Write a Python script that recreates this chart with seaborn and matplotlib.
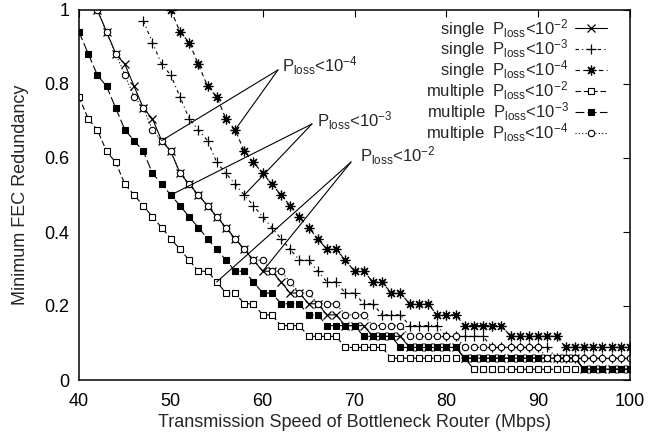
import matplotlib
matplotlib.use("Agg")
import matplotlib.pyplot as plt
import seaborn as sns
import pandas as pd

# ---------------- data ----------------
speed_s2 = list(range(42, 101))
single_e2 = [1.0, 0.941, 0.882, 0.853, 0.794, 0.735, 0.706, 0.647, 0.618, 0.559,
             0.529, 0.5, 0.471, 0.441, 0.412, 0.382, 0.353, 0.324, 0.294, 0.294,
             0.265, 0.235, 0.235, 0.206, 0.206, 0.176, 0.176, 0.147, 0.147, 0.147,
             0.118, 0.118, 0.118, 0.118,
             0.088, 0.088, 0.088, 0.088, 0.088, 0.088,
             0.059, 0.059, 0.059, 0.059, 0.059, 0.059, 0.059, 0.059, 0.059, 0.059,
             0.059, 0.059, 0.059,
             0.029, 0.029, 0.029, 0.029, 0.029, 0.029]

speed_s3 = list(range(47, 101))
single_e3 = [0.971, 0.912, 0.853, 0.824, 0.765, 0.706, 0.676, 0.647, 0.588, 0.559,
             0.529, 0.5, 0.471, 0.441, 0.412, 0.382, 0.353, 0.324, 0.324, 0.294,
             0.265, 0.265, 0.235, 0.235, 0.206, 0.206, 0.176, 0.176, 0.176,
             0.147, 0.147, 0.147, 0.147,
             0.118, 0.118, 0.118, 0.118, 0.118,
             0.088, 0.088, 0.088, 0.088, 0.088, 0.088, 0.088,
             0.059, 0.059, 0.059, 0.059, 0.059, 0.059, 0.059, 0.059, 0.059]

speed_s4 = list(range(50, 101))
single_e4 = [1.0, 0.941, 0.912, 0.853, 0.794, 0.765, 0.706, 0.676, 0.618, 0.588,
             0.559, 0.529, 0.5, 0.471, 0.441, 0.412, 0.382, 0.353, 0.353, 0.324,
             0.294, 0.294, 0.265, 0.265, 0.235, 0.235,
             0.206, 0.206, 0.206,
             0.176, 0.176, 0.176,
             0.147, 0.147, 0.147, 0.147, 0.147,
             0.118, 0.118, 0.118, 0.118, 0.118, 0.118,
             0.088, 0.088, 0.088, 0.088, 0.088, 0.088, 0.088, 0.088]

speed_m2 = list(range(40, 101))
multiple_e2 = [0.765, 0.706, 0.676, 0.618, 0.588, 0.529, 0.5, 0.471, 0.441, 0.412,
               0.382, 0.353, 0.324, 0.294, 0.294, 0.265, 0.235, 0.235, 0.206, 0.206,
               0.176, 0.176, 0.147, 0.147, 0.147, 0.118, 0.118, 0.118, 0.118,
               0.088, 0.088, 0.088, 0.088, 0.088,
               0.059, 0.059, 0.059, 0.059, 0.059, 0.059, 0.059, 0.059, 0.059,
               0.029, 0.029, 0.029, 0.029, 0.029, 0.029, 0.029, 0.029, 0.029,
               0.029, 0.029, 0.029, 0.029, 0.029, 0.029, 0.029, 0.029, 0.029]

speed_m3 = list(range(40, 101))
multiple_e3 = [0.941, 0.882, 0.824, 0.794, 0.735, 0.676, 0.647, 0.618, 0.559, 0.529,
               0.5, 0.471, 0.441, 0.412, 0.382, 0.353, 0.324, 0.294, 0.294, 0.265,
               0.235, 0.235, 0.206, 0.206, 0.206, 0.176, 0.176,
               0.147, 0.147, 0.147, 0.147,
               0.118, 0.118, 0.118, 0.118,
               0.088, 0.088, 0.088, 0.088, 0.088, 0.088, 0.088,
               0.059, 0.059, 0.059, 0.059, 0.059, 0.059, 0.059, 0.059, 0.059, 0.059,
               0.059, 0.059, 0.059,
               0.029, 0.029, 0.029, 0.029, 0.029, 0.029]

speed_m4 = list(range(42, 101))
multiple_e4 = [1.0, 0.941, 0.882, 0.824, 0.765, 0.735, 0.676, 0.647, 0.618, 0.559,
               0.529, 0.5, 0.471, 0.441, 0.412, 0.382, 0.353, 0.324, 0.324, 0.294,
               0.294, 0.265, 0.235, 0.235, 0.206, 0.206, 0.206, 0.176, 0.176, 0.176,
               0.147, 0.147, 0.147, 0.147,
               0.118, 0.118, 0.118, 0.118, 0.118, 0.118,
               0.088, 0.088, 0.088, 0.088, 0.088, 0.088, 0.088, 0.088, 0.088,
               0.059, 0.059, 0.059, 0.059, 0.059, 0.059, 0.059, 0.059, 0.059, 0.059]

labels = [r"single  P$_{\rm loss}$<10$^{-2}$",
          r"single  P$_{\rm loss}$<10$^{-3}$",
          r"single  P$_{\rm loss}$<10$^{-4}$",
          r"multiple  P$_{\rm loss}$<10$^{-2}$",
          r"multiple  P$_{\rm loss}$<10$^{-3}$",
          r"multiple  P$_{\rm loss}$<10$^{-4}$"]

x_ticks = [40, 50, 60, 70, 80, 90, 100]
y_ticks = [0, 0.2, 0.4, 0.6, 0.8, 1]
y_tick_labels = ["0", "0.2", "0.4", "0.6", "0.8", "1"]

# ---------------- style ----------------
sns.set_style("white")
plt.rcParams["font.family"] = ["Liberation Sans", "DejaVu Sans"]
plt.rcParams["mathtext.fontset"] = "custom"
plt.rcParams["mathtext.rm"] = "Liberation Sans"
plt.rcParams["mathtext.it"] = "Liberation Sans:italic"
plt.rcParams["mathtext.bf"] = "Liberation Sans:bold"
FS = 13
FS_SMALL = 12

fig = plt.figure(figsize=(6.5, 4.36), dpi=100)
ax = fig.add_axes([79 / 650, 56 / 436, 551 / 650, 370 / 436])

series = [
    (speed_s2, single_e2, dict(marker="x", ms=5.5, mew=0.9, mfc="black", ls="-")),
    (speed_s3, single_e3, dict(marker="+", ms=7, mew=0.9, mfc="black", ls=(0, (3, 3, 1, 3)))),
    (speed_s4, single_e4, dict(marker=(8, 2, 0), ms=7, mew=0.9, mfc="black", ls=(0, (4, 3)))),
    (speed_m2, multiple_e2, dict(marker="s", ms=5, mew=0.8, mfc="white", ls=(0, (5, 2.5)))),
    (speed_m3, multiple_e3, dict(marker="s", ms=5, mew=0.8, mfc="black", ls=(0, (8, 3)))),
    (speed_m4, multiple_e4, dict(marker="o", ms=4.6, mew=0.8, mfc="white", ls=(0, (1, 2)))),
]

for (xs, ys, st), lab in zip(series, labels):
    df = pd.DataFrame({"speed": xs, "redundancy": ys})
    sns.lineplot(data=df, x="speed", y="redundancy", ax=ax, color="black",
                 linewidth=0.8, marker=st["marker"], markersize=st["ms"],
                 markeredgewidth=st["mew"], markerfacecolor=st["mfc"],
                 markeredgecolor="black", linestyle=st["ls"], label=lab,
                 clip_on=True)

ax.set_xlim(40, 100)
ax.set_ylim(0, 1)
ax.set_xticks(x_ticks)
ax.set_yticks(y_ticks)
ax.set_yticklabels(y_tick_labels)
ax.tick_params(direction="in", length=5, width=0.8, top=True, right=True,
               labelsize=FS, colors="black")
ax.tick_params(axis="x", pad=9)
ax.tick_params(axis="y", pad=7)
for sp in ax.spines.values():
    sp.set_linewidth(1.1)
    sp.set_color("black")
ax.set_xlabel("Transmission Speed of Bottleneck Router (Mbps)", fontsize=FS, labelpad=3)
ax.set_ylabel("Minimum FEC Redundancy", fontsize=FS, labelpad=11)

leg = ax.legend(loc="upper right", bbox_to_anchor=(0.97, 1.0), frameon=False,
                markerfirst=False, fontsize=FS_SMALL, handlelength=1.9, handletextpad=0.4,
                labelspacing=-0.12, borderaxespad=0, numpoints=1)

# ---------------- annotations ----------------
def val(xs, ys, s):
    return ys[xs.index(s)]

groups = [
    ((61.67, 0.838), (62.1, 0.833), r"P$_{\rm loss}$<10$^{-4}$",
     [(49, val(speed_m4, multiple_e4, 49)), (57, val(speed_s4, single_e4, 57))]),
    ((65.37, 0.692), (65.9, 0.684), r"P$_{\rm loss}$<10$^{-3}$",
     [(50, val(speed_m3, multiple_e3, 50)), (58, val(speed_s3, single_e3, 58))]),
    ((69.62, 0.589), (70.6, 0.589), r"P$_{\rm loss}$<10$^{-2}$",
     [(55, val(speed_m2, multiple_e2, 55)), (60, val(speed_s2, single_e2, 60))]),
]
for conv, tpos, txt, targets in groups:
    for tgt in targets:
        ax.annotate("", xy=tgt, xytext=conv,
                    arrowprops=dict(arrowstyle="-", lw=0.8, color="black",
                                    shrinkA=0, shrinkB=0))
    ax.text(tpos[0], tpos[1], txt, fontsize=FS_SMALL, ha="left", va="baseline")

fig.savefig("out.png", dpi=100)
